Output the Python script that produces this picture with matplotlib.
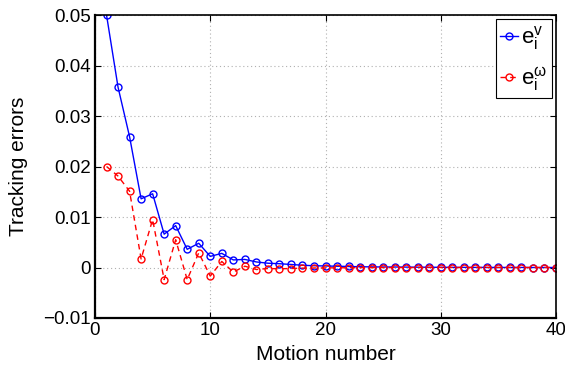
import matplotlib
matplotlib.use("Agg")
import matplotlib.pyplot as plt

plt.rcParams['font.family'] = ['Liberation Sans', 'DejaVu Sans']
plt.rcParams['mathtext.fontset'] = 'custom'
plt.rcParams['mathtext.rm'] = 'Liberation Sans'
plt.rcParams['mathtext.it'] = 'Liberation Sans'

motion = list(range(1, 41))
err_v = [0.0500, 0.0357, 0.0259, 0.0136, 0.0146, 0.0066, 0.0083, 0.0036, 0.0048, 0.0022,
         0.0028, 0.0015, 0.0016, 0.0011, 0.00085, 0.00075, 0.0006, 0.00045, 0.00035, 0.0003,
         0.00025, 0.0002, 0.00015, 0.00012, 0.0001, 0.0001, 0.00008, 0.00006, 0.00005, 0.00004,
         0.00003, 0.00003, 0.00002, 0.00002, 0.00001, 0.00001, 0.00001, 0.0, 0.0, 0.0]
err_w = [0.0200, 0.0181, 0.0151, 0.0017, 0.0095, -0.0024, 0.0055, -0.0024, 0.0029, -0.0017,
         0.0012, -0.0009, 0.00026, -0.0004, -0.0002, -0.00026, -0.0002, -0.00012, -0.0001, -0.00008,
         -0.00006, -0.00005, -0.00004, -0.00003, -0.00002, -0.00002, -0.00001, -0.00001, 0.0, 0.0,
         0.0, 0.0, 0.0, 0.0, 0.0, 0.0, 0.0, 0.0, 0.0, 0.0]

fig = plt.figure(figsize=(5.65, 3.72), dpi=100)
ax = fig.add_axes([95 / 565, 1 - 318 / 372, (556 - 95) / 565, (318 - 15) / 372])

ax.plot(motion, err_v, color='#0000ff', linestyle='-', linewidth=1.0,
        marker='o', markersize=5, markerfacecolor='none', markeredgecolor='#0000ff',
        markeredgewidth=1.0, label=r'$\mathregular{e_i^v}$')
ax.plot(motion, err_w, color='#ff0000', linestyle='--', linewidth=1.0, dashes=(4, 3),
        marker='o', markersize=5, markerfacecolor='none', markeredgecolor='#ff0000',
        markeredgewidth=1.0, label=r'$\mathregular{e_i^\omega}$')

ax.set_xlim(0, 40)
ax.set_ylim(-0.01, 0.05)
ax.set_xticks([0, 10, 20, 30, 40])
ax.set_yticks([-0.01, 0, 0.01, 0.02, 0.03, 0.04, 0.05])
ax.set_yticklabels(['\u22120.01', '0', '0.01', '0.02', '0.03', '0.04', '0.05'])
ax.grid(True, color='#b0b0b0', linestyle=(0, (1, 2.5)), linewidth=0.8)
ax.tick_params(direction='in', length=4, width=0.8, labelsize=13.5, top=True, right=True,
               colors='black', pad=3)
for name, s in ax.spines.items():
    s.set_linewidth(1.6 if name in ('left', 'bottom') else 1.2)
    s.set_color('black')

ax.set_xlabel('Motion number', fontsize=15, labelpad=4)
ax.set_ylabel('Tracking errors', fontsize=15, labelpad=11)

leg = ax.legend(loc='upper right', fontsize=16, handlelength=0.8, handletextpad=0.15,
                borderpad=0.2, labelspacing=0.6, fancybox=False, framealpha=1,
                edgecolor='black', borderaxespad=0.2)
leg.get_frame().set_linewidth(0.8)

fig.savefig('out.png', dpi=100)
